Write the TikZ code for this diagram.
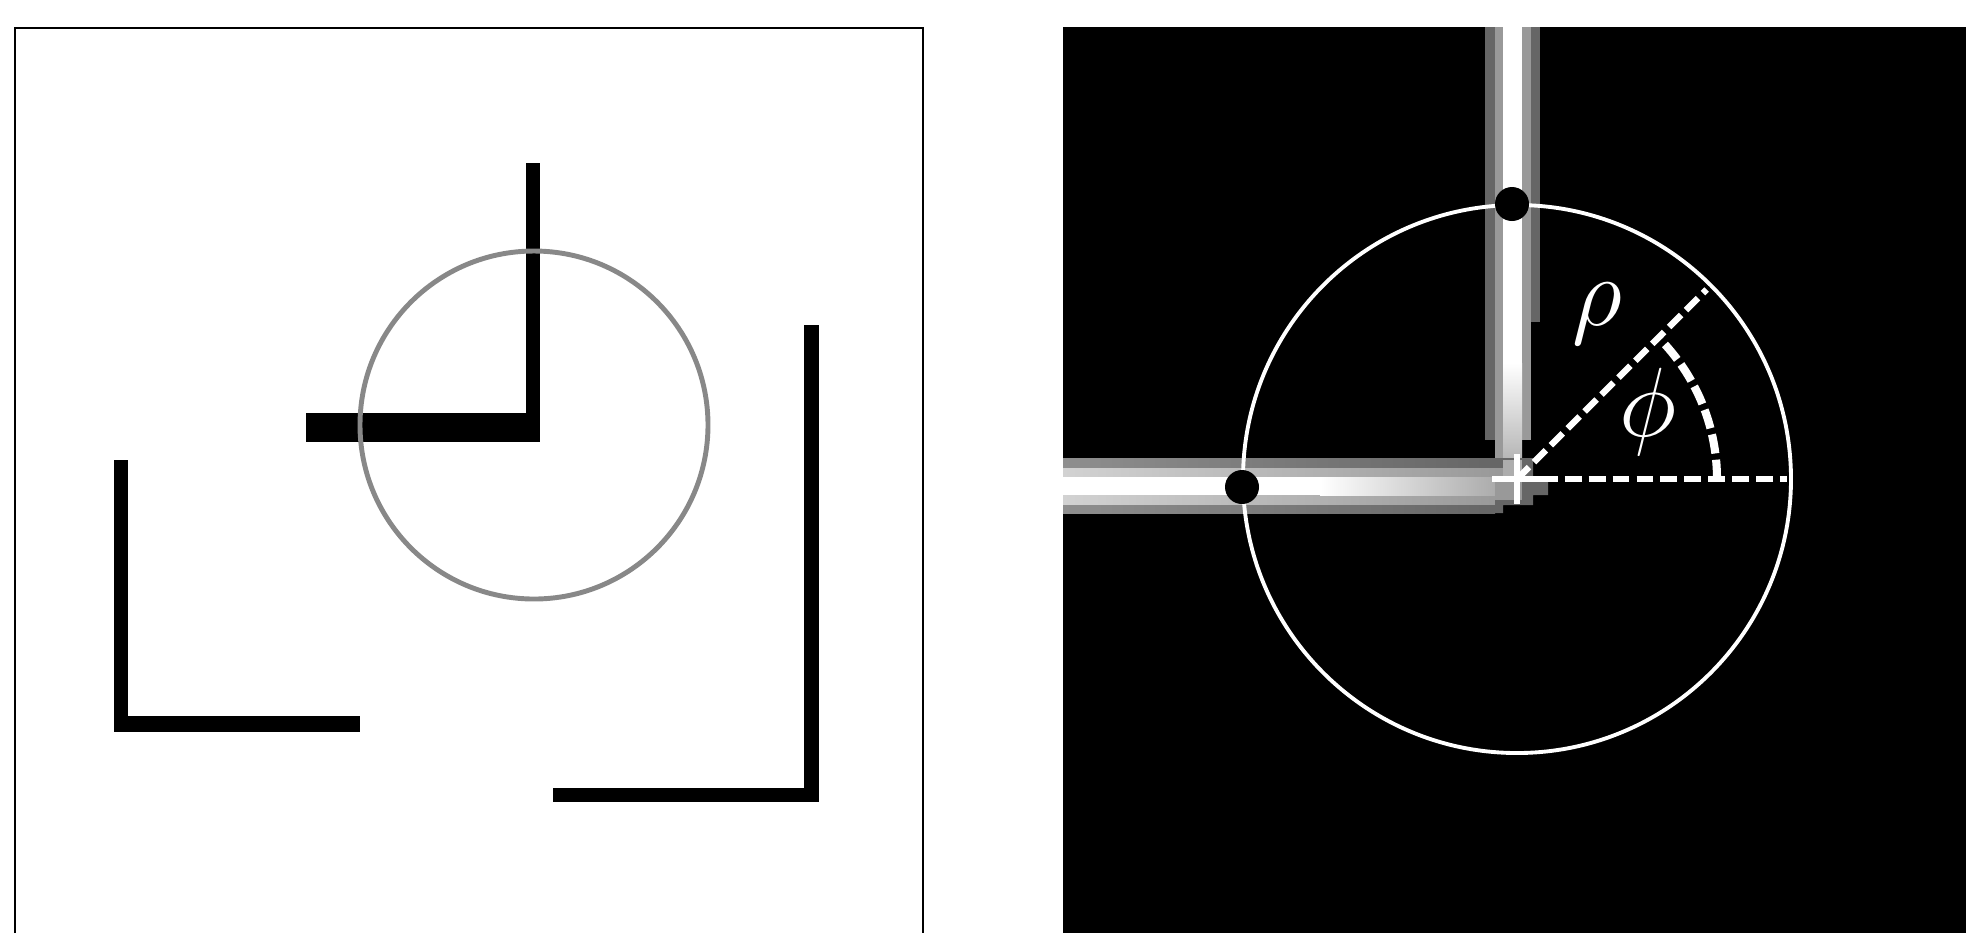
\RequirePackage{fix-cm}
\documentclass[tikz,border=0pt]{standalone}
\usepackage{amsmath}
\usepackage{xcolor}
\usepackage{tikz}
\usetikzlibrary{positioning}
\definecolor{ringgray}{HTML}{888888}
\definecolor{barout}{HTML}{666666}
\definecolor{barmid}{HTML}{999999}
\definecolor{hbarout}{HTML}{8E8E8E}
\definecolor{hbarmid}{HTML}{D2D2D2}
\definecolor{hbarcore}{HTML}{A8A8A8}

\begin{document}
\begin{tikzpicture}[x=0.1mm,y=-0.1mm,
  wall/.style={fill=black},
  frame/.style={draw=black,line width=0.6pt},
  ring/.style={draw=ringgray,line width=1.4pt},
  wring/.style={draw=white,line width=1.1pt},
  hole/.style={fill=black},
  dashline/.style={draw=white,line width=1.8pt,dash pattern=on 4.8pt off 2pt},
  dasharc/.style={draw=white,line width=2.3pt,dash pattern=on 5.5pt off 1.8pt},
  lbl/.style={text=white,inner sep=0pt,font=\fontsize{28}{32}\selectfont}
]
\useasboundingbox (0,0) rectangle (1966,933);
\draw[frame] (15,933) -- (15,28) -- (923,28) -- (923,933);
\fill[wall] (526,163) rectangle (540,442);
\fill[wall] (306,413) rectangle (540,442);
\fill[wall] (114,460) rectangle (128,732);
\fill[wall] (114,716) rectangle (360,732);
\fill[wall] (804,325) rectangle (819,802);
\fill[wall] (553,788) rectangle (819,802);
\draw[ring] (534,425) circle[radius=174];

\fill[black] (1063,27) rectangle (1966,933);
\coordinate (ctr) at (1517,479);
\fill[barout] (1485,27) rectangle (1495,440);
\fill[barout] (1531,27) rectangle (1540,322);
\fill[barmid] (1495,27) rectangle (1503,460);
\fill[barmid] (1522,27) rectangle (1531,440);
\fill[white] (1503,27) rectangle (1522,363);
\shade[top color=white,bottom color=barmid!80!white] (1503,363) rectangle (1522,470);
\shade[left color=hbarout,right color=barout] (1063,458) rectangle (1495,513);
\shade[left color=hbarmid,right color=barmid] (1063,468) rectangle (1500,504);
\fill[white] (1063,477) rectangle (1321,495);
\shade[left color=white,right color=hbarcore] (1320,477) rectangle (1503,495);
\fill[barout] (1495,458) -- (1533,458) -- (1533,477) -- (1548,477) -- (1548,495)
  -- (1533,495) -- (1533,505) -- (1503,505) -- (1503,513) -- (1495,513) -- cycle;
\fill[barmid] (1495,468) rectangle (1522,500);
\fill[barmid!80!white] (1503,460) rectangle (1522,477);
\draw[wring] (ctr) circle[radius=274];
\fill[hole] (1512,204) circle[radius=17];
\fill[hole] (1242,487) circle[radius=17];
\draw[dashline] (ctr) -- ++(270,0);
\draw[dashline] (ctr) -- ++(-45:268);
\draw[dasharc] (ctr) ++(200,0) arc[start angle=0,end angle=-45,radius=200];
\draw[white,line width=1.5pt] (ctr) ++(-25,0) -- ++(50,0);
\draw[white,line width=1.5pt] (ctr) ++(0,-25) -- ++(0,50);
\node[lbl] (rho) at (1597,314) {$\rho$};
\node[lbl] (phi) at (1648,412) {$\phi$};
\end{tikzpicture}
\end{document}
